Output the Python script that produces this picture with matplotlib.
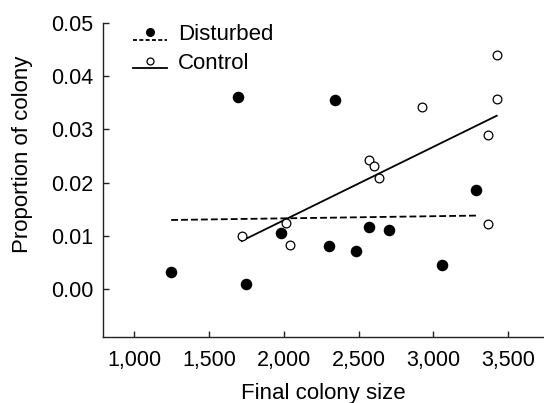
import numpy as np
import matplotlib
matplotlib.use('Agg')
import matplotlib.pyplot as plt
from matplotlib.legend_handler import HandlerLine2DCompound

plt.rcParams['font.family'] = ['Liberation Sans', 'DejaVu Sans']

# disturbed colonies (filled)
dist_x = [1247, 1691, 1747, 1983, 2303, 2340, 2480, 2567, 2702, 3055, 3286]
dist_y = [0.0032, 0.0361, 0.00105, 0.0105, 0.0082, 0.0355, 0.0072, 0.0116, 0.0111, 0.0046, 0.0186]

# control colonies (open)
ctrl_x = [1718, 2012, 2043, 2567, 2602, 2638, 2925, 3364, 3366, 3424, 3424]
ctrl_y = [0.0099, 0.0124, 0.0083, 0.0242, 0.0231, 0.0209, 0.0342, 0.0289, 0.0122, 0.0439, 0.0356]

xticks = [1000, 1500, 2000, 2500, 3000, 3500]
yticks = [0.00, 0.01, 0.02, 0.03, 0.04, 0.05]


class LowLineHandler(HandlerLine2DCompound):
    # line sits a bit below the marker, like in the original legend
    def create_artists(self, legend, orig_handle, xdescent, ydescent,
                       width, height, fontsize, trans):
        arts = super().create_artists(legend, orig_handle, xdescent, ydescent,
                                      width, height, fontsize, trans)
        line = arts[0]
        line.set_ydata(np.array(line.get_ydata()) - 0.34 * fontsize)
        return arts


fig = plt.figure(figsize=(5.44, 4.03), dpi=100)
ax = fig.add_axes([0.189, 0.163, 0.811, 0.781])

def fit_line(x, y):
    x = np.array(x)
    y = np.array(y)
    k, b = np.polyfit(x, y, 1)
    xs = np.array([x.min(), x.max()])
    return xs, k * xs + b

fx, fy = fit_line(dist_x, dist_y)
ax.plot(fx, fy, c='black', lw=1.3, ls=(0, (3.8, 1.7)))
fx, fy = fit_line(ctrl_x, ctrl_y)
ax.plot(fx, fy, c='black', lw=1.3)

ax.plot(dist_x, dist_y, 'o', ms=7.3, mfc='black', mec='black', mew=1, ls='none')
ax.plot(ctrl_x, ctrl_y, 'o', ms=6.3, mfc='white', mec='black', mew=0.9, ls='none')

h1, = ax.plot([], [], c='black', lw=1.3, ls=(0, (2.2, 1.3)), marker='o', ms=5.5, mfc='black', mec='black')
h2, = ax.plot([], [], c='black', lw=1.3, marker='o', ms=5, mfc='white', mec='black', mew=0.9)
ax.legend([h1, h2], ['Disturbed', 'Control'], loc='upper left', frameon=False,
          bbox_to_anchor=(0.069, 0.996), borderaxespad=0, borderpad=0,
          fontsize=16, handlelength=1.5, handletextpad=0.5, labelspacing=0.35,
          numpoints=1, handler_map={h1: LowLineHandler(), h2: LowLineHandler()})

ax.set_xlim(790, 3740)
ax.set_ylim(-0.009, 0.05)
ax.set_xticks(xticks)
ax.set_xticklabels(['{:,}'.format(v) for v in xticks])
ax.set_yticks(yticks)
ax.set_yticklabels(['{:.2f}'.format(v) for v in yticks])

ax.spines['top'].set_visible(False)
ax.spines['right'].set_visible(False)
for s in ['left', 'bottom']:
    ax.spines[s].set_linewidth(1.0)
    ax.spines[s].set_color('#222222')
ax.tick_params(direction='in', length=4.5, width=1, labelsize=15.5, color='#222222')
ax.tick_params(axis='x', pad=9)
ax.tick_params(axis='y', pad=7)

ax.set_xlabel('Final colony size', fontsize=16, labelpad=9)
ax.set_ylabel('Proportion of colony', fontsize=16)
ax.yaxis.set_label_coords(-0.158, 0.583)

fig.savefig('out.png', dpi=100)
